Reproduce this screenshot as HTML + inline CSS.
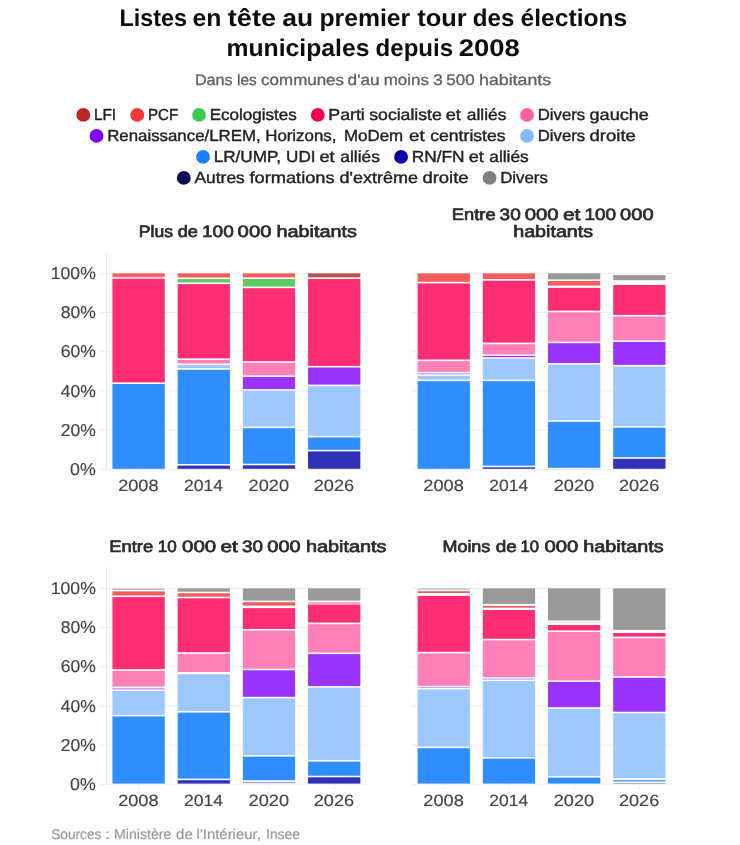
<!DOCTYPE html>
<html lang="fr"><head><meta charset="utf-8"><title>Listes en tête au premier tour des élections municipales depuis 2008</title>
<style>html,body{margin:0;padding:0;background:#fff}body{width:740px;height:845px;overflow:hidden;font-family:"Liberation Sans",sans-serif}svg{display:block;will-change:transform;text-rendering:geometricPrecision}</style></head>
<body>
<svg width="740" height="845" viewBox="0 0 740 845" font-family="Liberation Sans, sans-serif">
<rect width="740" height="845" fill="#fff"/>
<text x="119.54" y="25.75" font-size="24" font-weight="bold" text-anchor="start" fill="#0d0d0d" textLength="67.40" lengthAdjust="spacingAndGlyphs">Listes</text><text x="192.54" y="25.75" font-size="24" font-weight="bold" text-anchor="start" fill="#0d0d0d" textLength="28.90" lengthAdjust="spacingAndGlyphs">en</text><text x="227.84" y="25.75" font-size="24" font-weight="bold" text-anchor="start" fill="#0d0d0d" textLength="48.30" lengthAdjust="spacingAndGlyphs">tête</text><text x="282.34" y="25.75" font-size="24" font-weight="bold" text-anchor="start" fill="#0d0d0d" textLength="30.90" lengthAdjust="spacingAndGlyphs">au</text><text x="319.44" y="25.75" font-size="24" font-weight="bold" text-anchor="start" fill="#0d0d0d" textLength="90.80" lengthAdjust="spacingAndGlyphs">premier</text><text x="417.24" y="25.75" font-size="24" font-weight="bold" text-anchor="start" fill="#0d0d0d" textLength="49.50" lengthAdjust="spacingAndGlyphs">tour</text><text x="472.74" y="25.75" font-size="24" font-weight="bold" text-anchor="start" fill="#0d0d0d" textLength="41.60" lengthAdjust="spacingAndGlyphs">des</text><text x="520.64" y="25.75" font-size="24" font-weight="bold" text-anchor="start" fill="#0d0d0d" textLength="106.55" lengthAdjust="spacingAndGlyphs">élections</text>
<text x="226.54" y="55.75" font-size="24" font-weight="bold" text-anchor="start" fill="#0d0d0d" textLength="142.90" lengthAdjust="spacingAndGlyphs">municipales</text><text x="375.54" y="55.75" font-size="24" font-weight="bold" text-anchor="start" fill="#0d0d0d" textLength="77.60" lengthAdjust="spacingAndGlyphs">depuis</text><text x="458.74" y="55.75" font-size="24" font-weight="bold" text-anchor="start" fill="#0d0d0d" textLength="61.10" lengthAdjust="spacingAndGlyphs">2008</text>
<text x="194.91" y="84.50" font-size="15.3" font-weight="normal" text-anchor="start" fill="#5f5f5f" stroke="#5f5f5f" stroke-width="0.3" textLength="37.74" lengthAdjust="spacingAndGlyphs">Dans</text><text x="237.01" y="84.50" font-size="15.3" font-weight="normal" text-anchor="start" fill="#5f5f5f" stroke="#5f5f5f" stroke-width="0.3" textLength="19.69" lengthAdjust="spacingAndGlyphs">les</text><text x="261.11" y="84.50" font-size="15.3" font-weight="normal" text-anchor="start" fill="#5f5f5f" stroke="#5f5f5f" stroke-width="0.3" textLength="82.89" lengthAdjust="spacingAndGlyphs">communes</text><text x="347.61" y="84.50" font-size="15.3" font-weight="normal" text-anchor="start" fill="#5f5f5f" stroke="#5f5f5f" stroke-width="0.3" textLength="31.99" lengthAdjust="spacingAndGlyphs">d&#39;au</text><text x="383.71" y="84.50" font-size="15.3" font-weight="normal" text-anchor="start" fill="#5f5f5f" stroke="#5f5f5f" stroke-width="0.3" textLength="45.29" lengthAdjust="spacingAndGlyphs">moins</text><text x="432.91" y="84.50" font-size="15.3" font-weight="normal" text-anchor="start" fill="#5f5f5f" stroke="#5f5f5f" stroke-width="0.3" textLength="9.79" lengthAdjust="spacingAndGlyphs">3</text><text x="446.31" y="84.50" font-size="15.3" font-weight="normal" text-anchor="start" fill="#5f5f5f" stroke="#5f5f5f" stroke-width="0.3" textLength="28.29" lengthAdjust="spacingAndGlyphs">500</text><text x="479.01" y="84.50" font-size="15.3" font-weight="normal" text-anchor="start" fill="#5f5f5f" stroke="#5f5f5f" stroke-width="0.3" textLength="72.19" lengthAdjust="spacingAndGlyphs">habitants</text>
<circle cx="83.30" cy="114.90" r="6.9" fill="#b82628"/>
<text x="93.96" y="119.75" font-size="16" font-weight="normal" text-anchor="start" fill="#222226" stroke="#222226" stroke-width="0.4" textLength="22.16" lengthAdjust="spacingAndGlyphs">LFI</text>
<circle cx="137.30" cy="114.90" r="6.9" fill="#f33535"/>
<text x="147.96" y="119.75" font-size="16" font-weight="normal" text-anchor="start" fill="#222226" stroke="#222226" stroke-width="0.4" textLength="30.16" lengthAdjust="spacingAndGlyphs">PCF</text>
<circle cx="199.05" cy="114.90" r="6.9" fill="#3fc84f"/>
<text x="209.71" y="119.75" font-size="16" font-weight="normal" text-anchor="start" fill="#222226" stroke="#222226" stroke-width="0.4" textLength="87.16" lengthAdjust="spacingAndGlyphs">Ecologistes</text>
<circle cx="317.80" cy="114.90" r="6.9" fill="#f2004f"/>
<text x="328.36" y="119.75" font-size="16" font-weight="normal" text-anchor="start" fill="#222226" stroke="#222226" stroke-width="0.4" textLength="36.46" lengthAdjust="spacingAndGlyphs">Parti</text><text x="369.26" y="119.75" font-size="16" font-weight="normal" text-anchor="start" fill="#222226" stroke="#222226" stroke-width="0.4" textLength="72.56" lengthAdjust="spacingAndGlyphs">socialiste</text><text x="445.76" y="119.75" font-size="16" font-weight="normal" text-anchor="start" fill="#222226" stroke="#222226" stroke-width="0.4" textLength="15.16" lengthAdjust="spacingAndGlyphs">et</text><text x="466.86" y="119.75" font-size="16" font-weight="normal" text-anchor="start" fill="#222226" stroke="#222226" stroke-width="0.4" textLength="39.51" lengthAdjust="spacingAndGlyphs">alliés</text>
<circle cx="527.05" cy="114.90" r="6.9" fill="#ff60a4"/>
<text x="537.76" y="119.75" font-size="16" font-weight="normal" text-anchor="start" fill="#222226" stroke="#222226" stroke-width="0.4" textLength="47.46" lengthAdjust="spacingAndGlyphs">Divers</text><text x="589.56" y="119.75" font-size="16" font-weight="normal" text-anchor="start" fill="#222226" stroke="#222226" stroke-width="0.4" textLength="59.26" lengthAdjust="spacingAndGlyphs">gauche</text>
<circle cx="96.55" cy="135.90" r="6.9" fill="#8000ff"/>
<text x="107.21" y="140.75" font-size="16" font-weight="normal" text-anchor="start" fill="#222226" stroke="#222226" stroke-width="0.4" textLength="153.41" lengthAdjust="spacingAndGlyphs">Renaissance/LREM,</text><text x="265.21" y="140.75" font-size="16" font-weight="normal" text-anchor="start" fill="#222226" stroke="#222226" stroke-width="0.4" textLength="71.21" lengthAdjust="spacingAndGlyphs">Horizons,</text><text x="343.96" y="140.75" font-size="16" font-weight="normal" text-anchor="start" fill="#222226" stroke="#222226" stroke-width="0.4" textLength="59.16" lengthAdjust="spacingAndGlyphs">MoDem</text><text x="408.96" y="140.75" font-size="16" font-weight="normal" text-anchor="start" fill="#222226" stroke="#222226" stroke-width="0.4" textLength="15.66" lengthAdjust="spacingAndGlyphs">et</text><text x="430.21" y="140.75" font-size="16" font-weight="normal" text-anchor="start" fill="#222226" stroke="#222226" stroke-width="0.4" textLength="75.41" lengthAdjust="spacingAndGlyphs">centristes</text>
<circle cx="527.05" cy="135.90" r="6.9" fill="#80bbff"/>
<text x="537.76" y="140.75" font-size="16" font-weight="normal" text-anchor="start" fill="#222226" stroke="#222226" stroke-width="0.4" textLength="47.46" lengthAdjust="spacingAndGlyphs">Divers</text><text x="589.56" y="140.75" font-size="16" font-weight="normal" text-anchor="start" fill="#222226" stroke="#222226" stroke-width="0.4" textLength="46.26" lengthAdjust="spacingAndGlyphs">droite</text>
<circle cx="203.05" cy="156.90" r="6.9" fill="#1a80ff"/>
<text x="213.66" y="161.75" font-size="16" font-weight="normal" text-anchor="start" fill="#222226" stroke="#222226" stroke-width="0.4" textLength="67.36" lengthAdjust="spacingAndGlyphs">LR/UMP,</text><text x="286.06" y="161.75" font-size="16" font-weight="normal" text-anchor="start" fill="#222226" stroke="#222226" stroke-width="0.4" textLength="29.46" lengthAdjust="spacingAndGlyphs">UDI</text><text x="319.46" y="161.75" font-size="16" font-weight="normal" text-anchor="start" fill="#222226" stroke="#222226" stroke-width="0.4" textLength="15.16" lengthAdjust="spacingAndGlyphs">et</text><text x="340.36" y="161.75" font-size="16" font-weight="normal" text-anchor="start" fill="#222226" stroke="#222226" stroke-width="0.4" textLength="39.51" lengthAdjust="spacingAndGlyphs">alliés</text>
<circle cx="401.05" cy="156.90" r="6.9" fill="#0a00a8"/>
<text x="411.66" y="161.75" font-size="16" font-weight="normal" text-anchor="start" fill="#222226" stroke="#222226" stroke-width="0.4" textLength="52.86" lengthAdjust="spacingAndGlyphs">RN/FN</text><text x="468.66" y="161.75" font-size="16" font-weight="normal" text-anchor="start" fill="#222226" stroke="#222226" stroke-width="0.4" textLength="15.16" lengthAdjust="spacingAndGlyphs">et</text><text x="489.26" y="161.75" font-size="16" font-weight="normal" text-anchor="start" fill="#222226" stroke="#222226" stroke-width="0.4" textLength="39.56" lengthAdjust="spacingAndGlyphs">alliés</text>
<circle cx="183.80" cy="177.90" r="6.9" fill="#0a0a5a"/>
<text x="194.46" y="182.75" font-size="16" font-weight="normal" text-anchor="start" fill="#222226" stroke="#222226" stroke-width="0.4" textLength="50.36" lengthAdjust="spacingAndGlyphs">Autres</text><text x="249.46" y="182.75" font-size="16" font-weight="normal" text-anchor="start" fill="#222226" stroke="#222226" stroke-width="0.4" textLength="85.16" lengthAdjust="spacingAndGlyphs">formations</text><text x="339.46" y="182.75" font-size="16" font-weight="normal" text-anchor="start" fill="#222226" stroke="#222226" stroke-width="0.4" textLength="78.66" lengthAdjust="spacingAndGlyphs">d&#39;extrême</text><text x="422.46" y="182.75" font-size="16" font-weight="normal" text-anchor="start" fill="#222226" stroke="#222226" stroke-width="0.4" textLength="46.16" lengthAdjust="spacingAndGlyphs">droite</text>
<circle cx="489.55" cy="177.90" r="6.9" fill="#808080"/>
<text x="500.21" y="182.75" font-size="16" font-weight="normal" text-anchor="start" fill="#222226" stroke="#222226" stroke-width="0.4" textLength="47.66" lengthAdjust="spacingAndGlyphs">Divers</text>
<text x="138.83" y="236.70" font-size="16.5" font-weight="normal" text-anchor="start" fill="#2b2b2b" stroke="#2b2b2b" stroke-width="0.7" textLength="34.12" lengthAdjust="spacingAndGlyphs">Plus</text><text x="177.73" y="236.70" font-size="16.5" font-weight="normal" text-anchor="start" fill="#2b2b2b" stroke="#2b2b2b" stroke-width="0.7" textLength="20.32" lengthAdjust="spacingAndGlyphs">de</text><text x="202.03" y="236.70" font-size="16.5" font-weight="normal" text-anchor="start" fill="#2b2b2b" stroke="#2b2b2b" stroke-width="0.7" textLength="31.72" lengthAdjust="spacingAndGlyphs">100</text><text x="237.63" y="236.70" font-size="16.5" font-weight="normal" text-anchor="start" fill="#2b2b2b" stroke="#2b2b2b" stroke-width="0.7" textLength="33.82" lengthAdjust="spacingAndGlyphs">000</text><text x="276.53" y="236.70" font-size="16.5" font-weight="normal" text-anchor="start" fill="#2b2b2b" stroke="#2b2b2b" stroke-width="0.7" textLength="80.52" lengthAdjust="spacingAndGlyphs">habitants</text>
<text x="451.83" y="220.25" font-size="16.5" font-weight="normal" text-anchor="start" fill="#2b2b2b" stroke="#2b2b2b" stroke-width="0.7" textLength="43.82" lengthAdjust="spacingAndGlyphs">Entre</text><text x="499.63" y="220.25" font-size="16.5" font-weight="normal" text-anchor="start" fill="#2b2b2b" stroke="#2b2b2b" stroke-width="0.7" textLength="21.12" lengthAdjust="spacingAndGlyphs">30</text><text x="524.73" y="220.25" font-size="16.5" font-weight="normal" text-anchor="start" fill="#2b2b2b" stroke="#2b2b2b" stroke-width="0.7" textLength="33.92" lengthAdjust="spacingAndGlyphs">000</text><text x="563.03" y="220.25" font-size="16.5" font-weight="normal" text-anchor="start" fill="#2b2b2b" stroke="#2b2b2b" stroke-width="0.7" textLength="17.42" lengthAdjust="spacingAndGlyphs">et</text><text x="584.43" y="220.25" font-size="16.5" font-weight="normal" text-anchor="start" fill="#2b2b2b" stroke="#2b2b2b" stroke-width="0.7" textLength="31.72" lengthAdjust="spacingAndGlyphs">100</text><text x="620.13" y="220.25" font-size="16.5" font-weight="normal" text-anchor="start" fill="#2b2b2b" stroke="#2b2b2b" stroke-width="0.7" textLength="33.62" lengthAdjust="spacingAndGlyphs">000</text>
<text x="513.18" y="236.70" font-size="16.5" font-weight="normal" text-anchor="start" fill="#2b2b2b" stroke="#2b2b2b" stroke-width="0.7" textLength="79.97" lengthAdjust="spacingAndGlyphs">habitants</text>
<text x="109.23" y="552.40" font-size="16.5" font-weight="normal" text-anchor="start" fill="#2b2b2b" stroke="#2b2b2b" stroke-width="0.7" textLength="44.02" lengthAdjust="spacingAndGlyphs">Entre</text><text x="157.68" y="552.40" font-size="16.5" font-weight="normal" text-anchor="start" fill="#2b2b2b" stroke="#2b2b2b" stroke-width="0.7" textLength="18.97" lengthAdjust="spacingAndGlyphs">10</text><text x="182.03" y="552.40" font-size="16.5" font-weight="normal" text-anchor="start" fill="#2b2b2b" stroke="#2b2b2b" stroke-width="0.7" textLength="34.12" lengthAdjust="spacingAndGlyphs">000</text><text x="220.53" y="552.40" font-size="16.5" font-weight="normal" text-anchor="start" fill="#2b2b2b" stroke="#2b2b2b" stroke-width="0.7" textLength="17.42" lengthAdjust="spacingAndGlyphs">et</text><text x="241.93" y="552.40" font-size="16.5" font-weight="normal" text-anchor="start" fill="#2b2b2b" stroke="#2b2b2b" stroke-width="0.7" textLength="21.02" lengthAdjust="spacingAndGlyphs">30</text><text x="267.33" y="552.40" font-size="16.5" font-weight="normal" text-anchor="start" fill="#2b2b2b" stroke="#2b2b2b" stroke-width="0.7" textLength="33.32" lengthAdjust="spacingAndGlyphs">000</text><text x="305.93" y="552.40" font-size="16.5" font-weight="normal" text-anchor="start" fill="#2b2b2b" stroke="#2b2b2b" stroke-width="0.7" textLength="80.42" lengthAdjust="spacingAndGlyphs">habitants</text>
<text x="442.43" y="552.40" font-size="16.5" font-weight="normal" text-anchor="start" fill="#2b2b2b" stroke="#2b2b2b" stroke-width="0.7" textLength="47.92" lengthAdjust="spacingAndGlyphs">Moins</text><text x="495.73" y="552.40" font-size="16.5" font-weight="normal" text-anchor="start" fill="#2b2b2b" stroke="#2b2b2b" stroke-width="0.7" textLength="21.02" lengthAdjust="spacingAndGlyphs">de</text><text x="520.53" y="552.40" font-size="16.5" font-weight="normal" text-anchor="start" fill="#2b2b2b" stroke="#2b2b2b" stroke-width="0.7" textLength="18.52" lengthAdjust="spacingAndGlyphs">10</text><text x="544.43" y="552.40" font-size="16.5" font-weight="normal" text-anchor="start" fill="#2b2b2b" stroke="#2b2b2b" stroke-width="0.7" textLength="33.82" lengthAdjust="spacingAndGlyphs">000</text><text x="583.23" y="552.40" font-size="16.5" font-weight="normal" text-anchor="start" fill="#2b2b2b" stroke="#2b2b2b" stroke-width="0.7" textLength="80.52" lengthAdjust="spacingAndGlyphs">habitants</text>
<line x1="98.70" x2="367.00" y1="273.35" y2="273.35" stroke="#ededed" stroke-width="1"/>
<text x="50.78" y="279.00" font-size="17.2" font-weight="normal" text-anchor="start" fill="#444" stroke="#444" stroke-width="0.15" textLength="45.09" lengthAdjust="spacingAndGlyphs">100%</text>
<line x1="98.70" x2="367.00" y1="312.54" y2="312.54" stroke="#ededed" stroke-width="1"/>
<text x="60.78" y="318.19" font-size="17.2" font-weight="normal" text-anchor="start" fill="#444" stroke="#444" stroke-width="0.15" textLength="35.09" lengthAdjust="spacingAndGlyphs">80%</text>
<line x1="98.70" x2="367.00" y1="351.73" y2="351.73" stroke="#ededed" stroke-width="1"/>
<text x="60.78" y="357.38" font-size="17.2" font-weight="normal" text-anchor="start" fill="#444" stroke="#444" stroke-width="0.15" textLength="35.09" lengthAdjust="spacingAndGlyphs">60%</text>
<line x1="98.70" x2="367.00" y1="390.92" y2="390.92" stroke="#ededed" stroke-width="1"/>
<text x="60.78" y="396.57" font-size="17.2" font-weight="normal" text-anchor="start" fill="#444" stroke="#444" stroke-width="0.15" textLength="35.09" lengthAdjust="spacingAndGlyphs">40%</text>
<line x1="98.70" x2="367.00" y1="430.11" y2="430.11" stroke="#ededed" stroke-width="1"/>
<text x="60.78" y="435.76" font-size="17.2" font-weight="normal" text-anchor="start" fill="#444" stroke="#444" stroke-width="0.15" textLength="35.09" lengthAdjust="spacingAndGlyphs">20%</text>
<line x1="98.70" x2="367.00" y1="469.30" y2="469.30" stroke="#ededed" stroke-width="1"/>
<text x="70.13" y="474.95" font-size="17.2" font-weight="normal" text-anchor="start" fill="#444" stroke="#444" stroke-width="0.15" textLength="25.74" lengthAdjust="spacingAndGlyphs">0%</text>
<line x1="106.50" x2="106.50" y1="252.85" y2="469.30" stroke="#e8e8e8" stroke-width="1"/>
<rect x="112.45" y="273.35" width="52.3" height="3.55" fill="#f15c5c"/>
<rect x="112.45" y="276.90" width="52.3" height="2.10" fill="#ffc0d8"/>
<rect x="112.45" y="279.00" width="52.3" height="103.40" fill="#ff2d73"/>
<rect x="112.45" y="384.00" width="52.3" height="84.80" fill="#2e8eff"/>
<line x1="138.60" x2="138.60" y1="469.30" y2="475.30" stroke="#f0f0f0" stroke-width="1"/>
<text x="118.17" y="490.50" font-size="16.3" font-weight="normal" text-anchor="start" fill="#444" stroke="#444" stroke-width="0.15" textLength="40.45" lengthAdjust="spacingAndGlyphs">2008</text>
<rect x="177.65" y="273.35" width="52.3" height="4.15" fill="#f15c5c"/>
<rect x="177.65" y="279.10" width="52.3" height="3.40" fill="#5fcb63"/>
<rect x="177.65" y="284.10" width="52.3" height="74.30" fill="#ff2d73"/>
<rect x="177.65" y="360.00" width="52.3" height="3.50" fill="#ff80b8"/>
<rect x="177.65" y="365.10" width="52.3" height="3.10" fill="#9cc8ff"/>
<rect x="177.65" y="369.80" width="52.3" height="94.20" fill="#2e8eff"/>
<rect x="177.65" y="465.60" width="52.3" height="3.20" fill="#3131b8"/>
<line x1="203.80" x2="203.80" y1="469.30" y2="475.30" stroke="#f0f0f0" stroke-width="1"/>
<text x="184.12" y="490.50" font-size="16.3" font-weight="normal" text-anchor="start" fill="#444" stroke="#444" stroke-width="0.15" textLength="38.95" lengthAdjust="spacingAndGlyphs">2014</text>
<rect x="242.85" y="273.35" width="52.3" height="4.05" fill="#f15c5c"/>
<rect x="242.85" y="279.00" width="52.3" height="7.60" fill="#5fcb63"/>
<rect x="242.85" y="288.20" width="52.3" height="73.00" fill="#ff2d73"/>
<rect x="242.85" y="362.80" width="52.3" height="12.60" fill="#ff80b8"/>
<rect x="242.85" y="377.00" width="52.3" height="12.10" fill="#9a33ff"/>
<rect x="242.85" y="390.70" width="52.3" height="35.90" fill="#9cc8ff"/>
<rect x="242.85" y="428.20" width="52.3" height="35.50" fill="#2e8eff"/>
<rect x="242.85" y="465.30" width="52.3" height="3.50" fill="#3131b8"/>
<line x1="269.00" x2="269.00" y1="469.30" y2="475.30" stroke="#f0f0f0" stroke-width="1"/>
<text x="248.57" y="490.50" font-size="16.3" font-weight="normal" text-anchor="start" fill="#444" stroke="#444" stroke-width="0.15" textLength="40.45" lengthAdjust="spacingAndGlyphs">2020</text>
<rect x="308.05" y="273.35" width="52.3" height="4.05" fill="#b85252"/>
<rect x="308.05" y="279.00" width="52.3" height="86.90" fill="#ff2d73"/>
<rect x="308.05" y="367.50" width="52.3" height="17.10" fill="#9a33ff"/>
<rect x="308.05" y="386.20" width="52.3" height="49.60" fill="#9cc8ff"/>
<rect x="308.05" y="437.40" width="52.3" height="12.40" fill="#2e8eff"/>
<rect x="308.05" y="451.40" width="52.3" height="17.40" fill="#3131b8"/>
<line x1="334.20" x2="334.20" y1="469.30" y2="475.30" stroke="#f0f0f0" stroke-width="1"/>
<text x="313.77" y="490.50" font-size="16.3" font-weight="normal" text-anchor="start" fill="#444" stroke="#444" stroke-width="0.15" textLength="40.45" lengthAdjust="spacingAndGlyphs">2026</text>
<line x1="411.30" x2="671.80" y1="273.35" y2="273.35" stroke="#ededed" stroke-width="1"/>
<line x1="411.30" x2="671.80" y1="312.54" y2="312.54" stroke="#ededed" stroke-width="1"/>
<line x1="411.30" x2="671.80" y1="351.73" y2="351.73" stroke="#ededed" stroke-width="1"/>
<line x1="411.30" x2="671.80" y1="390.92" y2="390.92" stroke="#ededed" stroke-width="1"/>
<line x1="411.30" x2="671.80" y1="430.11" y2="430.11" stroke="#ededed" stroke-width="1"/>
<line x1="411.30" x2="671.80" y1="469.30" y2="469.30" stroke="#ededed" stroke-width="1"/>
<rect x="417.60" y="273.35" width="52.3" height="8.45" fill="#f15c5c"/>
<rect x="417.60" y="283.40" width="52.3" height="76.10" fill="#ff2d73"/>
<rect x="417.60" y="361.10" width="52.3" height="10.80" fill="#ff80b8"/>
<rect x="417.60" y="373.20" width="52.3" height="1.20" fill="#c9a0ff"/>
<rect x="417.60" y="375.80" width="52.3" height="3.80" fill="#9cc8ff"/>
<rect x="417.60" y="381.20" width="52.3" height="87.60" fill="#2e8eff"/>
<line x1="443.75" x2="443.75" y1="469.30" y2="475.30" stroke="#f0f0f0" stroke-width="1"/>
<text x="423.32" y="490.50" font-size="16.3" font-weight="normal" text-anchor="start" fill="#444" stroke="#444" stroke-width="0.15" textLength="40.45" lengthAdjust="spacingAndGlyphs">2008</text>
<rect x="482.80" y="273.35" width="52.3" height="5.75" fill="#f15c5c"/>
<rect x="482.80" y="280.70" width="52.3" height="61.90" fill="#ff2d73"/>
<rect x="482.80" y="344.20" width="52.3" height="10.30" fill="#ff80b8"/>
<rect x="482.80" y="355.90" width="52.3" height="1.30" fill="#9a33ff"/>
<rect x="482.80" y="358.70" width="52.3" height="20.90" fill="#9cc8ff"/>
<rect x="482.80" y="381.20" width="52.3" height="84.50" fill="#2e8eff"/>
<rect x="482.80" y="467.30" width="52.3" height="1.50" fill="#3131b8"/>
<line x1="508.95" x2="508.95" y1="469.30" y2="475.30" stroke="#f0f0f0" stroke-width="1"/>
<text x="489.27" y="490.50" font-size="16.3" font-weight="normal" text-anchor="start" fill="#444" stroke="#444" stroke-width="0.15" textLength="38.95" lengthAdjust="spacingAndGlyphs">2014</text>
<rect x="548.00" y="273.35" width="52.3" height="6.05" fill="#999999"/>
<rect x="548.00" y="281.00" width="52.3" height="4.60" fill="#f15c5c"/>
<rect x="548.00" y="287.90" width="52.3" height="22.80" fill="#ff2d73"/>
<rect x="548.00" y="312.30" width="52.3" height="29.30" fill="#ff80b8"/>
<rect x="548.00" y="343.20" width="52.3" height="19.80" fill="#9a33ff"/>
<rect x="548.00" y="364.60" width="52.3" height="55.60" fill="#9cc8ff"/>
<rect x="548.00" y="421.80" width="52.3" height="46.00" fill="#2e8eff"/>
<line x1="574.15" x2="574.15" y1="469.30" y2="475.30" stroke="#f0f0f0" stroke-width="1"/>
<text x="553.72" y="490.50" font-size="16.3" font-weight="normal" text-anchor="start" fill="#444" stroke="#444" stroke-width="0.15" textLength="40.45" lengthAdjust="spacingAndGlyphs">2020</text>
<rect x="613.20" y="275.10" width="52.3" height="5.10" fill="#999999"/>
<rect x="613.20" y="285.00" width="52.3" height="29.90" fill="#ff2d73"/>
<rect x="613.20" y="316.50" width="52.3" height="23.80" fill="#ff80b8"/>
<rect x="613.20" y="341.90" width="52.3" height="23.00" fill="#9a33ff"/>
<rect x="613.20" y="366.50" width="52.3" height="59.60" fill="#9cc8ff"/>
<rect x="613.20" y="427.70" width="52.3" height="29.50" fill="#2e8eff"/>
<rect x="613.20" y="458.80" width="52.3" height="10.00" fill="#3131b8"/>
<line x1="639.35" x2="639.35" y1="469.30" y2="475.30" stroke="#f0f0f0" stroke-width="1"/>
<text x="618.92" y="490.50" font-size="16.3" font-weight="normal" text-anchor="start" fill="#444" stroke="#444" stroke-width="0.15" textLength="40.45" lengthAdjust="spacingAndGlyphs">2026</text>
<line x1="98.70" x2="367.00" y1="588.35" y2="588.35" stroke="#ededed" stroke-width="1"/>
<text x="50.78" y="594.00" font-size="17.2" font-weight="normal" text-anchor="start" fill="#444" stroke="#444" stroke-width="0.15" textLength="45.09" lengthAdjust="spacingAndGlyphs">100%</text>
<line x1="98.70" x2="367.00" y1="627.54" y2="627.54" stroke="#ededed" stroke-width="1"/>
<text x="60.78" y="633.19" font-size="17.2" font-weight="normal" text-anchor="start" fill="#444" stroke="#444" stroke-width="0.15" textLength="35.09" lengthAdjust="spacingAndGlyphs">80%</text>
<line x1="98.70" x2="367.00" y1="666.73" y2="666.73" stroke="#ededed" stroke-width="1"/>
<text x="60.78" y="672.38" font-size="17.2" font-weight="normal" text-anchor="start" fill="#444" stroke="#444" stroke-width="0.15" textLength="35.09" lengthAdjust="spacingAndGlyphs">60%</text>
<line x1="98.70" x2="367.00" y1="705.92" y2="705.92" stroke="#ededed" stroke-width="1"/>
<text x="60.78" y="711.57" font-size="17.2" font-weight="normal" text-anchor="start" fill="#444" stroke="#444" stroke-width="0.15" textLength="35.09" lengthAdjust="spacingAndGlyphs">40%</text>
<line x1="98.70" x2="367.00" y1="745.11" y2="745.11" stroke="#ededed" stroke-width="1"/>
<text x="60.78" y="750.76" font-size="17.2" font-weight="normal" text-anchor="start" fill="#444" stroke="#444" stroke-width="0.15" textLength="35.09" lengthAdjust="spacingAndGlyphs">20%</text>
<line x1="98.70" x2="367.00" y1="784.30" y2="784.30" stroke="#ededed" stroke-width="1"/>
<text x="70.13" y="789.95" font-size="17.2" font-weight="normal" text-anchor="start" fill="#444" stroke="#444" stroke-width="0.15" textLength="25.74" lengthAdjust="spacingAndGlyphs">0%</text>
<line x1="106.50" x2="106.50" y1="567.85" y2="784.30" stroke="#e8e8e8" stroke-width="1"/>
<rect x="112.45" y="588.60" width="52.3" height="1.20" fill="#ababab"/>
<rect x="112.45" y="591.40" width="52.3" height="4.10" fill="#f15c5c"/>
<rect x="112.45" y="597.10" width="52.3" height="72.10" fill="#ff2d73"/>
<rect x="112.45" y="670.80" width="52.3" height="15.80" fill="#ff80b8"/>
<rect x="112.45" y="688.00" width="52.3" height="1.60" fill="#c9a0ff"/>
<rect x="112.45" y="691.00" width="52.3" height="23.80" fill="#9cc8ff"/>
<rect x="112.45" y="716.40" width="52.3" height="67.20" fill="#2e8eff"/>
<line x1="138.60" x2="138.60" y1="784.30" y2="790.30" stroke="#f0f0f0" stroke-width="1"/>
<text x="118.17" y="805.50" font-size="16.3" font-weight="normal" text-anchor="start" fill="#444" stroke="#444" stroke-width="0.15" textLength="40.45" lengthAdjust="spacingAndGlyphs">2008</text>
<rect x="177.65" y="588.35" width="52.3" height="3.35" fill="#999999"/>
<rect x="177.65" y="593.30" width="52.3" height="3.40" fill="#f15c5c"/>
<rect x="177.65" y="598.30" width="52.3" height="53.90" fill="#ff2d73"/>
<rect x="177.65" y="653.80" width="52.3" height="18.20" fill="#ff80b8"/>
<rect x="177.65" y="674.20" width="52.3" height="36.80" fill="#9cc8ff"/>
<rect x="177.65" y="712.60" width="52.3" height="66.00" fill="#2e8eff"/>
<rect x="177.65" y="780.20" width="52.3" height="3.40" fill="#3131b8"/>
<line x1="203.80" x2="203.80" y1="784.30" y2="790.30" stroke="#f0f0f0" stroke-width="1"/>
<text x="184.12" y="805.50" font-size="16.3" font-weight="normal" text-anchor="start" fill="#444" stroke="#444" stroke-width="0.15" textLength="38.95" lengthAdjust="spacingAndGlyphs">2014</text>
<rect x="242.85" y="588.35" width="52.3" height="12.25" fill="#999999"/>
<rect x="242.85" y="602.20" width="52.3" height="3.40" fill="#f15c5c"/>
<rect x="242.85" y="608.10" width="52.3" height="20.90" fill="#ff2d73"/>
<rect x="242.85" y="630.60" width="52.3" height="38.10" fill="#ff80b8"/>
<rect x="242.85" y="670.30" width="52.3" height="26.50" fill="#9a33ff"/>
<rect x="242.85" y="698.40" width="52.3" height="56.60" fill="#9cc8ff"/>
<rect x="242.85" y="756.60" width="52.3" height="23.60" fill="#2e8eff"/>
<rect x="242.85" y="781.80" width="52.3" height="1.40" fill="#a8a8d8"/>
<line x1="269.00" x2="269.00" y1="784.30" y2="790.30" stroke="#f0f0f0" stroke-width="1"/>
<text x="248.57" y="805.50" font-size="16.3" font-weight="normal" text-anchor="start" fill="#444" stroke="#444" stroke-width="0.15" textLength="40.45" lengthAdjust="spacingAndGlyphs">2020</text>
<rect x="308.05" y="588.35" width="52.3" height="12.25" fill="#999999"/>
<rect x="308.05" y="602.00" width="52.3" height="2.20" fill="#ffa6c8"/>
<rect x="308.05" y="604.60" width="52.3" height="18.00" fill="#ff2d73"/>
<rect x="308.05" y="624.20" width="52.3" height="28.30" fill="#ff80b8"/>
<rect x="308.05" y="654.10" width="52.3" height="32.00" fill="#9a33ff"/>
<rect x="308.05" y="687.70" width="52.3" height="72.30" fill="#9cc8ff"/>
<rect x="308.05" y="761.60" width="52.3" height="14.10" fill="#2e8eff"/>
<rect x="308.05" y="777.30" width="52.3" height="6.30" fill="#3131b8"/>
<line x1="334.20" x2="334.20" y1="784.30" y2="790.30" stroke="#f0f0f0" stroke-width="1"/>
<text x="313.77" y="805.50" font-size="16.3" font-weight="normal" text-anchor="start" fill="#444" stroke="#444" stroke-width="0.15" textLength="40.45" lengthAdjust="spacingAndGlyphs">2026</text>
<line x1="411.30" x2="671.80" y1="588.35" y2="588.35" stroke="#ededed" stroke-width="1"/>
<line x1="411.30" x2="671.80" y1="627.54" y2="627.54" stroke="#ededed" stroke-width="1"/>
<line x1="411.30" x2="671.80" y1="666.73" y2="666.73" stroke="#ededed" stroke-width="1"/>
<line x1="411.30" x2="671.80" y1="705.92" y2="705.92" stroke="#ededed" stroke-width="1"/>
<line x1="411.30" x2="671.80" y1="745.11" y2="745.11" stroke="#ededed" stroke-width="1"/>
<line x1="411.30" x2="671.80" y1="784.30" y2="784.30" stroke="#ededed" stroke-width="1"/>
<rect x="417.60" y="588.60" width="52.3" height="1.00" fill="#ababab"/>
<rect x="417.60" y="591.20" width="52.3" height="1.80" fill="#f15c5c"/>
<rect x="417.60" y="595.90" width="52.3" height="55.90" fill="#ff2d73"/>
<rect x="417.60" y="653.40" width="52.3" height="32.40" fill="#ff80b8"/>
<rect x="417.60" y="687.10" width="52.3" height="0.90" fill="#c9a0ff"/>
<rect x="417.60" y="689.40" width="52.3" height="57.20" fill="#9cc8ff"/>
<rect x="417.60" y="748.20" width="52.3" height="35.40" fill="#2e8eff"/>
<line x1="443.75" x2="443.75" y1="784.30" y2="790.30" stroke="#f0f0f0" stroke-width="1"/>
<text x="423.32" y="805.50" font-size="16.3" font-weight="normal" text-anchor="start" fill="#444" stroke="#444" stroke-width="0.15" textLength="40.45" lengthAdjust="spacingAndGlyphs">2008</text>
<rect x="482.80" y="588.35" width="52.3" height="15.55" fill="#999999"/>
<rect x="482.80" y="606.00" width="52.3" height="1.70" fill="#f15c5c"/>
<rect x="482.80" y="610.00" width="52.3" height="28.80" fill="#ff2d73"/>
<rect x="482.80" y="640.40" width="52.3" height="36.80" fill="#ff80b8"/>
<rect x="482.80" y="678.50" width="52.3" height="1.20" fill="#c9a0ff"/>
<rect x="482.80" y="681.10" width="52.3" height="75.90" fill="#9cc8ff"/>
<rect x="482.80" y="758.60" width="52.3" height="25.00" fill="#2e8eff"/>
<line x1="508.95" x2="508.95" y1="784.30" y2="790.30" stroke="#f0f0f0" stroke-width="1"/>
<text x="489.27" y="805.50" font-size="16.3" font-weight="normal" text-anchor="start" fill="#444" stroke="#444" stroke-width="0.15" textLength="38.95" lengthAdjust="spacingAndGlyphs">2014</text>
<rect x="548.00" y="588.35" width="52.3" height="32.15" fill="#999999"/>
<rect x="548.00" y="621.80" width="52.3" height="1.00" fill="#ffd2dc"/>
<rect x="548.00" y="625.00" width="52.3" height="5.45" fill="#ff2d73"/>
<rect x="548.00" y="632.05" width="52.3" height="48.35" fill="#ff80b8"/>
<rect x="548.00" y="682.00" width="52.3" height="25.20" fill="#9a33ff"/>
<rect x="548.00" y="708.80" width="52.3" height="67.20" fill="#9cc8ff"/>
<rect x="548.00" y="777.60" width="52.3" height="6.00" fill="#2e8eff"/>
<line x1="574.15" x2="574.15" y1="784.30" y2="790.30" stroke="#f0f0f0" stroke-width="1"/>
<text x="553.72" y="805.50" font-size="16.3" font-weight="normal" text-anchor="start" fill="#444" stroke="#444" stroke-width="0.15" textLength="40.45" lengthAdjust="spacingAndGlyphs">2020</text>
<rect x="613.20" y="588.35" width="52.3" height="41.55" fill="#999999"/>
<rect x="613.20" y="633.00" width="52.3" height="3.60" fill="#ff2d73"/>
<rect x="613.20" y="638.20" width="52.3" height="38.00" fill="#ff80b8"/>
<rect x="613.20" y="677.80" width="52.3" height="33.90" fill="#9a33ff"/>
<rect x="613.20" y="713.30" width="52.3" height="64.90" fill="#9cc8ff"/>
<rect x="613.20" y="779.90" width="52.3" height="1.70" fill="#5ea7ff"/>
<rect x="613.20" y="782.90" width="52.3" height="1.10" fill="#b4b4cc"/>
<line x1="639.35" x2="639.35" y1="784.30" y2="790.30" stroke="#f0f0f0" stroke-width="1"/>
<text x="618.92" y="805.50" font-size="16.3" font-weight="normal" text-anchor="start" fill="#444" stroke="#444" stroke-width="0.15" textLength="40.45" lengthAdjust="spacingAndGlyphs">2026</text>
<text x="51.18" y="839.00" font-size="14.2" font-weight="normal" text-anchor="start" fill="#999" stroke="#999" stroke-width="0.2" textLength="50.18" lengthAdjust="spacingAndGlyphs">Sources</text><text x="104.98" y="839.00" font-size="14.2" font-weight="normal" text-anchor="start" fill="#999" stroke="#999" stroke-width="0.2" textLength="5.08" lengthAdjust="spacingAndGlyphs">:</text><text x="114.08" y="839.00" font-size="14.2" font-weight="normal" text-anchor="start" fill="#999" stroke="#999" stroke-width="0.2" textLength="57.38" lengthAdjust="spacingAndGlyphs">Ministère</text><text x="176.08" y="839.00" font-size="14.2" font-weight="normal" text-anchor="start" fill="#999" stroke="#999" stroke-width="0.2" textLength="16.68" lengthAdjust="spacingAndGlyphs">de</text><text x="196.58" y="839.00" font-size="14.2" font-weight="normal" text-anchor="start" fill="#999" stroke="#999" stroke-width="0.2" textLength="64.28" lengthAdjust="spacingAndGlyphs">l&#39;Intérieur,</text><text x="266.08" y="839.00" font-size="14.2" font-weight="normal" text-anchor="start" fill="#999" stroke="#999" stroke-width="0.2" textLength="33.78" lengthAdjust="spacingAndGlyphs">Insee</text>
</svg>
</body></html>
